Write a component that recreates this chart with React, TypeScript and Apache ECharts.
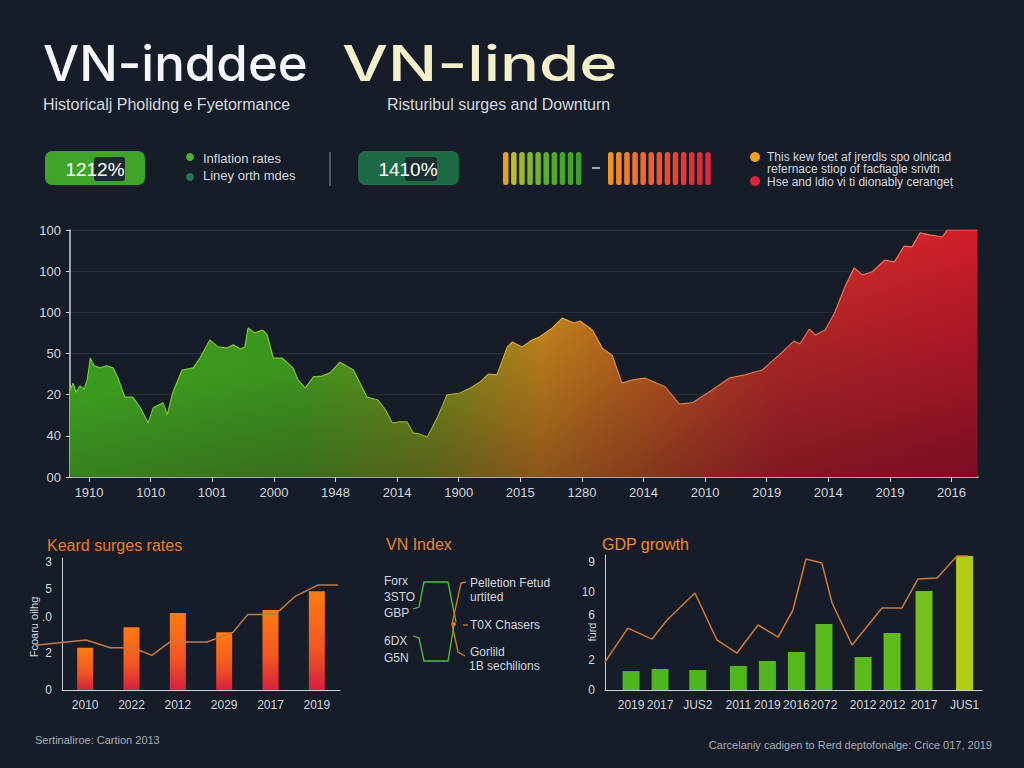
import React, { useEffect, useRef } from "react";
import * as echarts from "echarts";

// ---------- DATA ----------
const mainYLabels = ["00", "40", "20", "50", "100", "100", "100"];
const mainXLabels = ["1910", "1010", "1001", "2000", "1948", "2014", "1900", "2015", "1280", "2014", "2010", "2019", "2014", "2019", "2016"];
// [position (tick units), level]
const mainSeries: [number, number][] = [
  [-0.31, 2.11], [-0.26, 2.28], [-0.21, 2.06], [-0.15, 2.21], [-0.08, 2.14], [-0.03, 2.36],
  [0.02, 2.89], [0.08, 2.7], [0.18, 2.65], [0.28, 2.7], [0.39, 2.65], [0.47, 2.4],
  [0.58, 1.94], [0.71, 1.94], [0.83, 1.68], [0.96, 1.31], [1.04, 1.68], [1.2, 1.8],
  [1.27, 1.51], [1.36, 2.06], [1.51, 2.6], [1.69, 2.65], [1.8, 2.89], [1.96, 3.33],
  [2.09, 3.16], [2.24, 3.13], [2.34, 3.21], [2.45, 3.11], [2.53, 3.16], [2.58, 3.62],
  [2.69, 3.5], [2.82, 3.57], [2.89, 3.45], [2.99, 2.89], [3.13, 2.89], [3.31, 2.65],
  [3.39, 2.36], [3.51, 2.16], [3.64, 2.43], [3.78, 2.45], [3.91, 2.53], [4.07, 2.79],
  [4.17, 2.7], [4.29, 2.6], [4.51, 1.94], [4.69, 1.87], [4.81, 1.63], [4.92, 1.31],
  [5.05, 1.34], [5.16, 1.34], [5.26, 1.07], [5.37, 1.04], [5.49, 0.97], [5.65, 1.43],
  [5.81, 1.99], [6.02, 2.04], [6.19, 2.16], [6.35, 2.31], [6.48, 2.5], [6.62, 2.48],
  [6.79, 3.16], [6.87, 3.28], [7.03, 3.16], [7.16, 3.3], [7.31, 3.4], [7.52, 3.62],
  [7.68, 3.86], [7.87, 3.74], [7.97, 3.79], [8.17, 3.57], [8.33, 3.13], [8.49, 2.96],
  [8.65, 2.28], [8.83, 2.36], [9.03, 2.4], [9.35, 2.19], [9.58, 1.77], [9.79, 1.8],
  [10.11, 2.11], [10.39, 2.4], [10.65, 2.48], [10.93, 2.6], [11.2, 2.96], [11.44, 3.3],
  [11.54, 3.23], [11.69, 3.59], [11.79, 3.45], [11.95, 3.57], [12.11, 4.01], [12.27, 4.62],
  [12.42, 5.08], [12.55, 4.91], [12.71, 4.98], [12.92, 5.27], [13.07, 5.22], [13.23, 5.61],
  [13.36, 5.59], [13.49, 5.93], [13.65, 5.88], [13.85, 5.83], [13.93, 6.0], [14.22, 6.0],
  [14.42, 6.0],
];

const surgeCats = ["2010", "2022", "2012", "2029", "2017", "2019"];
const surgeBars = [3.3, 4.9, 6.0, 4.5, 6.25, 7.7];
const surgeLine: [number, number][] = [
  [-1.08, 3.5], [0.02, 3.9], [0.54, 3.3], [1.03, 3.3], [1.44, 2.7], [1.83, 3.75],
  [2.63, 3.75], [3.19, 4.5], [3.51, 5.9], [4.1, 5.9], [4.53, 7.3], [5.03, 8.2], [5.46, 8.2],
];
const surgeYTicks = [0, 2.9, 5.7, 7.9, 10];
const surgeYLabels = ["0", "2", ".0", "5", "3"];

const gdpLabels = ["2019", "2017", "JUS2", "2011", "2019", "2016", "2072", "2012", "2012", "2017", "JUS1"];
const gdpPos = [0.9, 1.9, 3.2, 4.6, 5.6, 6.6, 7.55, 8.9, 9.9, 11.0, 12.4];
const gdpBars = [1.48, 1.64, 1.56, 1.88, 2.27, 2.97, 5.16, 2.58, 4.45, 7.73, 10.47];
const gdpLine: [number, number][] = [
  [0, 2.19], [0.79, 4.84], [1.62, 3.98], [2.14, 5.47], [3.1, 7.58], [3.86, 3.91],
  [4.55, 2.89], [5.28, 5.08], [5.97, 4.14], [6.48, 6.25], [6.93, 10.23], [7.48, 9.92],
  [7.83, 6.8], [8.52, 3.52], [9.55, 6.41], [10.24, 6.41], [10.79, 8.67], [11.45, 8.75],
  [12.14, 10.47], [12.52, 10.47],
];
const gdpYTicks = [0, 2.34, 5.86, 7.66, 10];
const gdpYLabels = ["0", "2", "6", "10", "9"];

// ---------- STYLE ----------
const BG = "#161c28";
const AXIS = "#cdd1d8";
const LABEL = "#d3d7dd";
const SANS = "'Liberation Sans', Arial, sans-serif";
const greenStrip = ["#e3a21e", "#bcbf20", "#9cbb22", "#84b725", "#70b326", "#60af28", "#52ab29", "#48a72a", "#40a32a", "#3a9f2a"];
const redStrip = ["#f0941e", "#f08a20", "#ef8022", "#ee7624", "#ed6c26", "#ec6228", "#ea582a", "#e84e2e", "#e64432", "#e43a36", "#e23238", "#e02c3a", "#de283c"];
const gdpBarColors = ["#4cb61c", "#4cb61c", "#4cb61c", "#4eb71c", "#50b81c", "#54b91c", "#58ba1c", "#5cbb1c", "#60bc1c", "#74c01a", "#b2cc14"];

function nearestLabel(v: number, ticks: number[], labels: string[]) {
  let best = 0;
  for (let i = 1; i < ticks.length; i++) if (Math.abs(ticks[i] - v) < Math.abs(ticks[best] - v)) best = i;
  return labels[best];
}

function buildGraphic() {
  const g: any[] = [];
  const txt = (x: number, y: number, text: string, font: string, fill: string, align = "left", extra: any = {}) =>
    g.push({ type: "text", x, y, ...extra, style: { text, font, fill, align, verticalAlign: "middle" } });

  txt(43, 63, "VN-inddee", "500 50px Inter", "#f4f5f6", "left", { scaleX: 1.02 });
  txt(342, 63, "VN-linde", "500 50px Inter", "#f3efc9", "left", { scaleX: 1.3 });
  txt(43, 104, "Historicalj Pholidng e Fyetormance", `16px ${SANS}`, "#d6d9de");
  txt(387, 104, "Risturibul surges and Downturn", `16px ${SANS}`, "#d6d9de");

  // KPI boxes
  g.push({ type: "rect", shape: { x: 45, y: 151, width: 100, height: 34, r: 7 }, style: { fill: "#3fa42a" } });
  g.push({ type: "rect", shape: { x: 94, y: 157, width: 31, height: 24, r: 3 }, style: { fill: "#1d2b2e" } });
  txt(95, 169, "1212%", `19px ${SANS}`, "#ffffff", "center");
  g.push({ type: "circle", shape: { cx: 190, cy: 157, r: 4 }, style: { fill: "#46b52c" } });
  g.push({ type: "circle", shape: { cx: 190, cy: 177, r: 4 }, style: { fill: "#1f7a4e" } });
  txt(203, 158, "Inflation rates", `13px ${SANS}`, LABEL);
  txt(203, 175, "Liney orth mdes", `13px ${SANS}`, LABEL);
  g.push({ type: "line", shape: { x1: 330, y1: 152, x2: 330, y2: 186 }, style: { stroke: "#8a8f98", lineWidth: 1 } });
  g.push({ type: "rect", shape: { x: 358, y: 151, width: 101, height: 34, r: 7 }, style: { fill: "#1d6a47" } });
  g.push({ type: "rect", shape: { x: 405, y: 157, width: 32, height: 24, r: 3 }, style: { fill: "#1a2e30" } });
  txt(408, 169, "1410%", `19px ${SANS}`, "#ffffff", "center");

  greenStrip.forEach((c, i) => g.push({ type: "rect", shape: { x: 503 + i * 8.1, y: 152, width: 5.5, height: 33, r: 2.5 }, style: { fill: c } }));
  g.push({ type: "line", shape: { x1: 592, y1: 168, x2: 600, y2: 168 }, style: { stroke: "#d0d4da", lineWidth: 1.5 } });
  redStrip.forEach((c, i) => g.push({ type: "rect", shape: { x: 608 + i * 8.1, y: 152, width: 5.5, height: 33, r: 2.5 }, style: { fill: c } }));

  g.push({ type: "circle", shape: { cx: 755, cy: 157, r: 5 }, style: { fill: "#f0a020" } });
  g.push({ type: "circle", shape: { cx: 755, cy: 181, r: 5 }, style: { fill: "#e0203c" } });
  txt(767, 157, "This kew foet af jrerdls spo olnicad", `12px ${SANS}`, LABEL);
  txt(767, 169, "refernace stiop of facfiagle srivth", `12px ${SANS}`, LABEL);
  txt(767, 182, "Hse and ldio vi ti dionably cerangeṭ", `12px ${SANS}`, LABEL);

  // panel titles
  txt(47, 545, "Keard surges rates", `16px ${SANS}`, "#ef7b1c");
  txt(386, 544, "VN Index", `16px ${SANS}`, "#e8862a");
  txt(602, 544, "GDP growth", `16px ${SANS}`, "#ec8e2a");

  // rotated axis names
  txt(34, 627, "Fcoaru oilhg", `11px ${SANS}`, LABEL, "center", { rotation: Math.PI / 2 });
  txt(592, 632, "fùrd", `11px ${SANS}`, LABEL, "center", { rotation: Math.PI / 2 });

  // VN Index connector diagram
  const pl = (points: number[][], stroke: string) =>
    g.push({ type: "polyline", shape: { points }, style: { stroke, lineWidth: 1.3, fill: null } });
  pl([[413, 609], [419, 607], [424, 582], [448, 582], [456, 622]], "#4cc23a");
  pl([[413, 636], [419, 638], [424, 661], [448, 661], [454, 625]], "#4cc23a");
  pl([[466, 582], [461, 583], [452, 624], [458, 652], [465, 656]], "#e0782a");
  pl([[463, 625], [468, 625]], "#e0782a");
  g.push({ type: "circle", shape: { cx: 454, cy: 624, r: 2 }, style: { fill: "#e0782a" } });
  const L = `12px ${SANS}`;
  txt(384, 581, "Forx", L, LABEL);
  txt(384, 597, "3STO", L, LABEL);
  txt(384, 613, "GBP", L, LABEL);
  txt(384, 641, "6DX", L, LABEL);
  txt(384, 658, "G5N", L, LABEL);
  txt(470, 583, "Pelletion Fetud", L, LABEL);
  txt(470, 597, "urtited", L, LABEL);
  txt(470, 625, "T0X Chasers", L, LABEL);
  txt(470, 652, "Gorlild", L, LABEL);
  txt(469, 666, "1B sechilions", L, LABEL);

  // footer
  txt(35, 740, "Sertinaliroe: Cartion 2013", `11px ${SANS}`, "#a9aeb6");
  txt(992, 745, "Carcelaniy cadigen to Rerd deptofonalge: Crice 017, 2019", `11px ${SANS}`, "#a9aeb6", "right");
  return g;
}

function buildOption(): any {
  const mainTicks = mainXLabels.map((_, i) => i);
  const areaGrad = new echarts.graphic.LinearGradient(0, 0, 1, 0, [
    { offset: 0, color: "#3a9a20" },
    { offset: 0.25, color: "#3c961d" },
    { offset: 0.4, color: "#6f8e1a" },
    { offset: 0.52, color: "#c2861a" },
    { offset: 0.62, color: "#c0661c" },
    { offset: 0.78, color: "#c42e28" },
    { offset: 1, color: "#d21e2a" },
  ]);
  const lineGrad = new echarts.graphic.LinearGradient(0, 0, 1, 0, [
    { offset: 0, color: "#6fce2c" },
    { offset: 0.35, color: "#8fc22a" },
    { offset: 0.5, color: "#e8a834" },
    { offset: 0.7, color: "#f0884a" },
    { offset: 1, color: "#f06a5a" },
  ]);
  // diagonal shading: darker towards the bottom, stronger on the right (pixel-space gradient)
  const shade = new echarts.graphic.LinearGradient(978, 228, 1024, 468, [
    { offset: 0, color: "rgba(40,0,25,0)" },
    { offset: 1, color: "rgba(50,0,28,0.55)" },
  ], true);
  const orangeBar = new echarts.graphic.LinearGradient(0, 0, 0, 1, [
    { offset: 0, color: "#ff7c10" },
    { offset: 0.6, color: "#f25522" },
    { offset: 1, color: "#d6203e" },
  ]);

  return {
    animation: false,
    backgroundColor: BG,
    textStyle: { fontFamily: SANS },
    grid: [
      { left: 70, top: 230, width: 908, height: 247 },
      { left: 62, top: 558, width: 278, height: 132 },
      { left: 605, top: 555, width: 377, height: 135 },
      // overlay grid for the surge line, which starts left of the bar axis
      { left: 35, top: 558, width: 305, height: 132 },
    ],
    xAxis: [
      {
        gridIndex: 0, type: "value", min: -0.31, max: 14.43,
        axisLine: { show: true, onZero: false, lineStyle: { color: AXIS, width: 1.5 } },
        axisTick: { show: true, customValues: mainTicks, length: 5, lineStyle: { color: AXIS } },
        axisLabel: { customValues: mainTicks, color: LABEL, fontSize: 13, margin: 9, formatter: (v: number) => mainXLabels[Math.round(v)] },
        splitLine: { show: false },
      },
      {
        gridIndex: 1, type: "category", data: surgeCats,
        axisLine: { show: true, onZero: false, lineStyle: { color: AXIS } },
        axisTick: { show: false },
        axisLabel: { color: LABEL, fontSize: 12, margin: 9 },
      },
      { gridIndex: 3, type: "value", min: -1.083, max: 5.5, show: false, axisLine: { onZero: false } },
      {
        gridIndex: 2, type: "value", min: 0, max: 13,
        axisLine: { show: true, onZero: false, lineStyle: { color: AXIS } },
        axisTick: { show: false },
        axisLabel: { customValues: gdpPos, color: LABEL, fontSize: 12, margin: 9, formatter: (v: number) => nearestLabel(v, gdpPos, gdpLabels) },
        splitLine: { show: false },
      },
    ],
    yAxis: [
      {
        gridIndex: 0, type: "value", min: 0, max: 6, interval: 1,
        axisLine: { show: true, onZero: false, lineStyle: { color: AXIS, width: 1.5 } },
        axisTick: { show: true, length: 4, lineStyle: { color: AXIS } },
        axisLabel: { color: LABEL, fontSize: 13, margin: 9, formatter: (v: number) => mainYLabels[Math.round(v)] },
        splitLine: { show: true, lineStyle: { color: "rgba(255,255,255,0.08)" } },
      },
      {
        gridIndex: 1, type: "value", min: 0, max: 10.3,
        axisLine: { show: true, onZero: false, lineStyle: { color: AXIS } },
        axisTick: { show: false },
        axisLabel: { customValues: surgeYTicks, color: LABEL, fontSize: 12, margin: 10, formatter: (v: number) => nearestLabel(v, surgeYTicks, surgeYLabels) },
        splitLine: { show: false },
      },
      {
        gridIndex: 2, type: "value", min: 0, max: 10.55,
        axisLine: { show: true, onZero: false, lineStyle: { color: AXIS } },
        axisTick: { show: false },
        axisLabel: { customValues: gdpYTicks, color: LABEL, fontSize: 12, margin: 10, formatter: (v: number) => nearestLabel(v, gdpYTicks, gdpYLabels) },
        splitLine: { show: false },
      },
      { gridIndex: 3, type: "value", min: 0, max: 10.3, show: false },
    ],
    series: [
      {
        type: "line", xAxisIndex: 0, yAxisIndex: 0, data: mainSeries, showSymbol: false,
        lineStyle: { color: lineGrad, width: 1.2 }, areaStyle: { color: areaGrad, opacity: 1 }, z: 2,
      },
      {
        type: "line", xAxisIndex: 0, yAxisIndex: 0, data: mainSeries, showSymbol: false, silent: true,
        lineStyle: { width: 0, opacity: 0 }, areaStyle: { color: shade, opacity: 1 }, z: 3,
      },
      {
        type: "bar", xAxisIndex: 1, yAxisIndex: 1, data: surgeBars, barWidth: 16,
        itemStyle: { color: orangeBar },
      },
      {
        type: "line", xAxisIndex: 2, yAxisIndex: 3, data: surgeLine, showSymbol: false, clip: false,
        lineStyle: { color: "#c97a38", width: 1.5 }, z: 4,
      },
      {
        type: "bar", xAxisIndex: 3, yAxisIndex: 2, barWidth: 17,
        data: gdpBars.map((v, i) => ({ value: [gdpPos[i], v], itemStyle: { color: gdpBarColors[i] } })),
      },
      {
        type: "line", xAxisIndex: 3, yAxisIndex: 2, data: gdpLine, showSymbol: false, clip: false,
        lineStyle: { color: "#d07a32", width: 1.5 }, z: 4,
      },
    ],
    graphic: buildGraphic(),
  };
}

export default function App() {
  const ref = useRef<HTMLDivElement>(null);
  useEffect(() => {
    document.body.style.margin = "0";
    document.body.style.background = BG;
    const chart = echarts.init(ref.current!, undefined, { renderer: "svg" });
    chart.setOption(buildOption());
    return () => chart.dispose();
  }, []);
  return <div ref={ref} style={{ position: "absolute", left: 0, top: 0, width: 1024, height: 768 }} />;
}
